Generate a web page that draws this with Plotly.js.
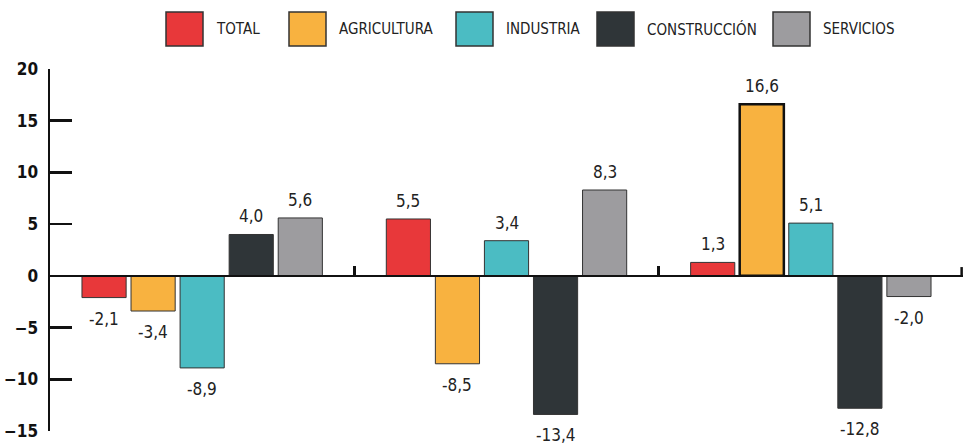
<!DOCTYPE html>
<html><head><meta charset="utf-8">
<script src="https://cdn.plot.ly/plotly-3.0.1.min.js"></script>
<style>body{margin:0;background:#fff}#chart{width:968px;height:446px}</style>
</head><body><div id="chart"></div>
<script>
const categories = ["Grupo 1", "Grupo 2", "Grupo 3"];
const seriesNames = ["TOTAL", "AGRICULTURA", "INDUSTRIA", "CONSTRUCCIÓN", "SERVICIOS"];
const total = [-2.1, 5.5, 1.3];
const agricultura = [-3.4, -8.5, 16.6];
const industria = [-8.9, 3.4, 5.1];
const construccion = [4.0, -13.4, -12.8];
const servicios = [5.6, 8.3, -2.0];
const yTicks = [-15, -10, -5, 0, 5, 10, 15, 20];

const colors = ["#E8383A", "#F8B240", "#4BBCC3", "#2F3538", "#9D9C9F"];
const series = [total, agricultura, industria, construccion, servicios];
const FONT = "'DejaVu Sans Condensed', 'Liberation Sans Narrow', sans-serif";
const fmt = v => v.toFixed(1).replace('.', ',');
const BARGAP = 0.194;
const slot = (1 - BARGAP) / series.length;

const traces = series.map((vals, i) => ({
  type: 'bar',
  name: seriesNames[i],
  x: categories,
  y: vals,
  cliponaxis: false,
  marker: {
    color: colors[i],
    line: {color: i === 1 ? vals.map(v => v > 15 ? '#111' : '#333') : '#333',
           width: i === 1 ? vals.map(v => v > 15 ? 2.5 : 1) : 1}
  },
  showlegend: false,
  hoverinfo: 'skip'
}));

const shapes = [];
const annotations = [];
// value labels
series.forEach((vals, i) => {
  vals.forEach((v, c) => {
    annotations.push({xref: 'x', yref: 'y',
      x: c + (i - (series.length - 1) / 2) * slot, y: v,
      text: fmt(v), showarrow: false,
      yanchor: v >= 0 ? 'bottom' : 'top', yshift: v >= 0 ? 6 : -9,
      font: {family: FONT, size: 17, color: '#222'}});
  });
});
// right-end tick of the x axis
shapes.push({type: 'line', xref: 'paper', yref: 'y', x0: 0.9985, x1: 0.9985, y0: 0, y1: 0.85,
  line: {color: '#111', width: 2.5}});
// custom legend
const legendX = [166, 289, 456, 597, 773];
seriesNames.forEach((n, i) => {
  shapes.push({type: 'rect', xref: 'paper', yref: 'paper',
    x0: (legendX[i] - 50) / 913, x1: (legendX[i] + 37 - 50) / 913,
    y0: (446 - 15 - 46) / 362, y1: (446 - 15 - 12) / 362,
    fillcolor: colors[i], line: {color: '#333', width: 1.5}});
  annotations.push({xref: 'paper', yref: 'paper',
    x: (legendX[i] + 48 - 50) / 913, y: (446 - 15 - 29) / 362,
    xanchor: 'left', yanchor: 'middle', showarrow: false, text: n,
    font: {family: FONT, size: 15, color: '#222'}});
});

const layout = {
  width: 968, height: 446,
  margin: {l: 50, r: 5, t: 69, b: 15},
  paper_bgcolor: '#fff', plot_bgcolor: '#fff',
  barmode: 'group', bargap: BARGAP, bargroupgap: 0.1,
  showlegend: false,
  font: {family: FONT, color: '#222'},
  xaxis: {type: 'category', anchor: 'free', position: 15 / 35,
    range: [-0.5, 2.5],
    showline: true, linecolor: '#111', linewidth: 2.5,
    tickmode: 'array', tickvals: [0.5, 1.5], ticktext: ['', ''],
    ticks: 'inside', ticklen: 9, tickwidth: 2.5, tickcolor: '#111',
    showticklabels: false, showgrid: false, zeroline: false, fixedrange: true},
  yaxis: {range: [-15, 20], tickmode: 'array', tickvals: yTicks,
    showline: true, linecolor: '#111', linewidth: 2.5,
    ticks: 'inside', ticklen: 22, tickwidth: 2.5, tickcolor: '#111',
    showgrid: false, zeroline: false,
    tickfont: {family: FONT, size: 17, color: '#111', weight: 'bold'},
    ticklabelstandoff: 6},
  shapes: shapes,
  annotations: annotations
};
Plotly.newPlot('chart', traces, layout, {displayModeBar: false, staticPlot: true});
</script></body></html>
